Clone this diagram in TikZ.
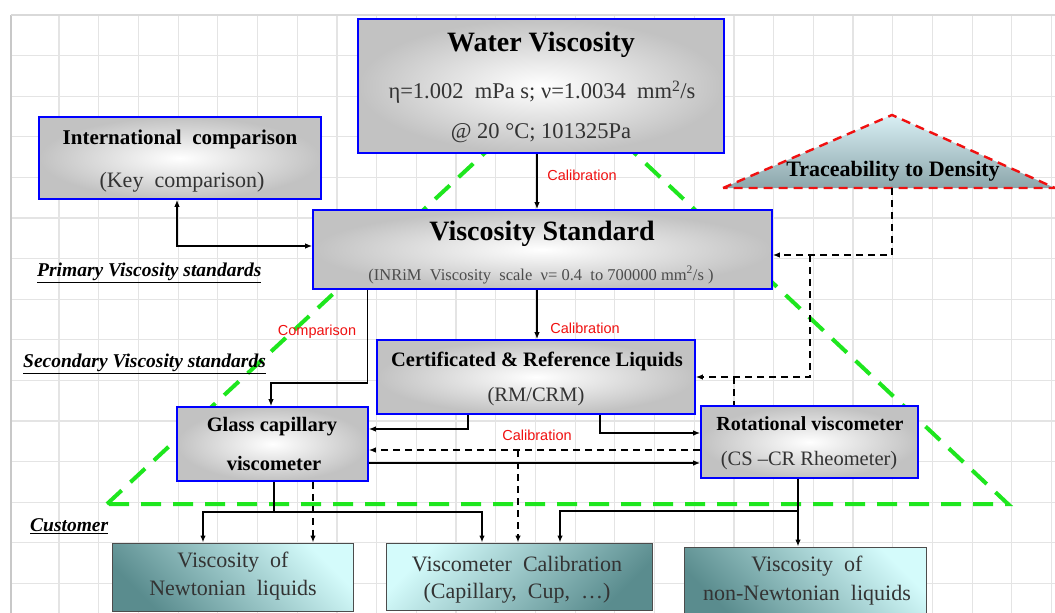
\documentclass[tikz,border=0pt]{standalone}
\usepackage{fontspec}
\setmainfont{Liberation Serif}
\newfontfamily\arialf{Liberation Sans}
\usetikzlibrary{arrows.meta,calc}
\definecolor{gridc}{HTML}{E4E4E4}
\definecolor{gridb}{HTML}{C8C8C8}
\definecolor{greenl}{HTML}{1EE61E}
\definecolor{redl}{HTML}{F01010}
\definecolor{cdark}{HTML}{5A8C8E}
\definecolor{clight}{HTML}{D4FBFB}
\definecolor{trtop}{HTML}{D8EFF4}
\definecolor{trbot}{HTML}{8CA6AB}
\definecolor{subg}{HTML}{333333}
\newcommand{\fsz}[1]{\fontsize{#1}{#1}\selectfont}
\begin{document}
\begin{tikzpicture}[x=1pt,y=-1pt,
  gridline/.style={draw=gridc,line width=1.2pt},
  box/.style={draw=blue,line width=1.6pt,shading=radial,inner color=white,outer color=black!24,inner sep=0pt},
  cboxl/.style={draw=black!70,line width=1pt,inner sep=0pt,shading=axis,left color=cdark,right color=clight,shading angle=135},
  cboxr/.style={draw=black!70,line width=1pt,inner sep=0pt,shading=axis,left color=clight,right color=cdark,shading angle=45},
  txt/.style={inner sep=0pt,text=black},
  sub/.style={inner sep=0pt,text=subg},
  redlab/.style={inner sep=0pt,text=redl,font=\arialf\fsz{14.5}},
  sidelab/.style={inner sep=0pt,anchor=west,font=\bfseries\itshape\fsz{19.5}},
  arr/.style={-{Latex[length=7pt,width=5.5pt]},line width=1.4pt},
  arrb/.style={{Latex[length=7pt,width=5.5pt]}-{Latex[length=7pt,width=5.5pt]},line width=1.4pt},
  darr/.style={arr,dash pattern=on 7pt off 5pt},
  dline/.style={line width=1.4pt,dash pattern=on 7pt off 5pt},
  sline/.style={line width=1.4pt}
]
\useasboundingbox (0,0) rectangle (1055,613);
\fill[white] (0,0) rectangle (1055,613);
% grid
\foreach \i in {0,...,25} \draw[gridline] ({59+39.7*\i},15) -- ({59+39.7*\i},613);
\foreach \j in {0,...,14} \draw[gridline] (11,{15+40.6*\j}) -- (1055,{15+40.6*\j});
\draw[draw=gridb,line width=1.4pt] (11,15) -- (11,613);
\draw[draw=gridb!70,line width=1.4pt] (11,15) -- (1055,15);

% green dashed triangle
\draw[greenl,line width=4pt,dash pattern=on 20pt off 12pt] (107,504) -- (560,83) -- (1008,504) -- cycle;

% traceability triangle
\shade[top color=trtop,bottom color=trbot] (723,188) -- (892,115) -- (1055,188) -- cycle;
\draw[redl,line width=2.4pt,dash pattern=on 9pt off 6pt] (723,188) -- (892,115) -- (1055,188) -- cycle;
\node[txt,font=\bfseries\fsz{22}] (trtxt) at (893,171) {Traceability to Density};
\coordinate (trb) at (892,188);

% boxes
\node[box,minimum width=366pt,minimum height=134pt] (water) at (541,86) {};
\node[txt,font=\bfseries\fsz{28}] (w1) at (541,45) {Water Viscosity};
\node[sub,font=\fsz{22.5}] (w2) at (542,92) {η=1.002 \ mPa s; ν=1.0034 \ mm\textsuperscript{2}/s};
\node[sub,font=\fsz{22.5}] (w3) at (541,133) {@ 20 °C; 101325Pa};

\node[box,minimum width=282pt,minimum height=82pt] (intl) at (180,158) {};
\node[txt,font=\bfseries\fsz{21}] (i1) at (180,139) {International \ comparison};
\node[sub,font=\fsz{22}] (i2) at (182,182) {(Key \ comparison)};

\node[box,minimum width=459pt,minimum height=79pt] (vs) at (542.5,249.5) {};
\node[txt,font=\bfseries\fsz{28}] (v1) at (542,234) {Viscosity Standard};
\node[sub,font=\fsz{16.5},text=black!70] (v2) at (541,275) {(INRiM \ Viscosity \ scale \ ν= 0.4 \ to 700000 mm\textsuperscript{2}/s )};

\node[box,minimum width=318pt,minimum height=74pt] (crl) at (536,377) {};
\node[txt,font=\bfseries\fsz{20.5}] (c1) at (537,361) {Certificated \& Reference Liquids};
\node[sub,font=\fsz{20.5}] (c2) at (536,397) {(RM/CRM)};

\node[box,minimum width=191pt,minimum height=74pt] (glass) at (272.5,444) {};
\node[txt,font=\bfseries\fsz{20.5}] (g1) at (272,427) {Glass capillary};
\node[txt,font=\bfseries\fsz{20.5}] (g2) at (274,463) {viscometer};

\node[box,minimum width=217pt,minimum height=72pt] (rot) at (809.5,442) {};
\node[txt,font=\bfseries\fsz{20}] (r1) at (810,424) {Rotational viscometer};
\node[sub,font=\fsz{20.5}] (r2) at (809,461) {(CS –CR Rheometer)};

\node[cboxl,minimum width=241pt,minimum height=68pt] (newt) at (232.5,577) {};
\node[sub,font=\fsz{22}] (n1) at (233,562) {Viscosity \ of};
\node[sub,font=\fsz{22}] (n2) at (233,590) {Newtonian \ liquids};

\node[cboxr,minimum width=266pt,minimum height=67pt] (vcal) at (519,576.5) {};
\node[sub,font=\fsz{22}] (vc1) at (517,564) {Viscometer \ Calibration};
\node[sub,font=\fsz{22}] (vc2) at (517,593) {(Capillary, \ Cup, \ \ldots)};

\node[cboxl,minimum width=242pt,minimum height=68pt] (nonn) at (805,581) {};
\node[sub,font=\fsz{22}] (nn1) at (807,566) {Viscosity \ of};
\node[sub,font=\fsz{22}] (nn2) at (807,595) {non-Newtonian \ liquids};

% connectors
\draw[arr] ([xshift=-4pt]water.south) -- ([xshift=-4pt]water.south |- vs.north);
\draw[arrb] ([xshift=-3pt]intl.south) |- ([yshift=3.5pt]vs.west);
\draw[arr] ([xshift=55pt]vs.south west) -- ++(0,93) -| ([xshift=-1.5pt]glass.north);
\draw[arr] ([xshift=-5.5pt]vs.south) -- ([xshift=-5.5pt]vs.south |- crl.north);

\coordinate (jt1) at (810,255);
\coordinate (jt2) at (734,377);
\draw[darr] (trb) |- ([yshift=-5.5pt]vs.east);
\draw[darr] (jt1) |- (crl.east);
\draw[dline] (jt2) -- (jt2 |- rot.north);

\draw[arr] ([xshift=-68pt]crl.south) |- ([yshift=15pt]glass.east);
\draw[arr] ([xshift=64pt]crl.south) |- ([yshift=9pt]rot.west);
\draw[darr] ([yshift=-8pt]rot.west) -- ([yshift=-8pt]rot.west -| glass.east);
\coordinate (jd) at (518,450);
\draw[darr] (jd) -- (jd |- vcal.north);
\draw[arr] ([yshift=-19pt]glass.east) -- ([yshift=-19pt]glass.east -| rot.west);

\draw[arr] ([xshift=1.5pt]glass.south) -- ++(0,30) -| ([xshift=-29.5pt]newt.north);
\draw[arr] ([xshift=1.5pt]glass.south) -- ++(0,30) -| ([xshift=-37pt]vcal.north);
\draw[darr] ([xshift=40.5pt]glass.south) -- ([xshift=40.5pt]glass.south |- newt.north);
\draw[arr] ([xshift=-11.5pt]rot.south) -- ([xshift=-11.5pt]rot.south |- nonn.north);
\draw[arr] ([xshift=-11.5pt]rot.south) -- ++(0,32) -| ([xshift=41pt]vcal.north);

% labels
\node[redlab] (cal1) at (582,175) {Calibration};
\node[redlab] (cal2) at (585,328) {Calibration};
\node[redlab] (cal3) at (537,435) {Calibration};
\node[redlab] (comp) at (317,332) {Comparison};
\node[sidelab] (prim) at (37,273) {\underline{Primary Viscosity standards}};
\node[sidelab] (sec) at (23,364) {\underline{Secondary Viscosity standards}};
\node[sidelab] (cust) at (30,526) {\underline{Customer}};
\end{tikzpicture}
\end{document}
